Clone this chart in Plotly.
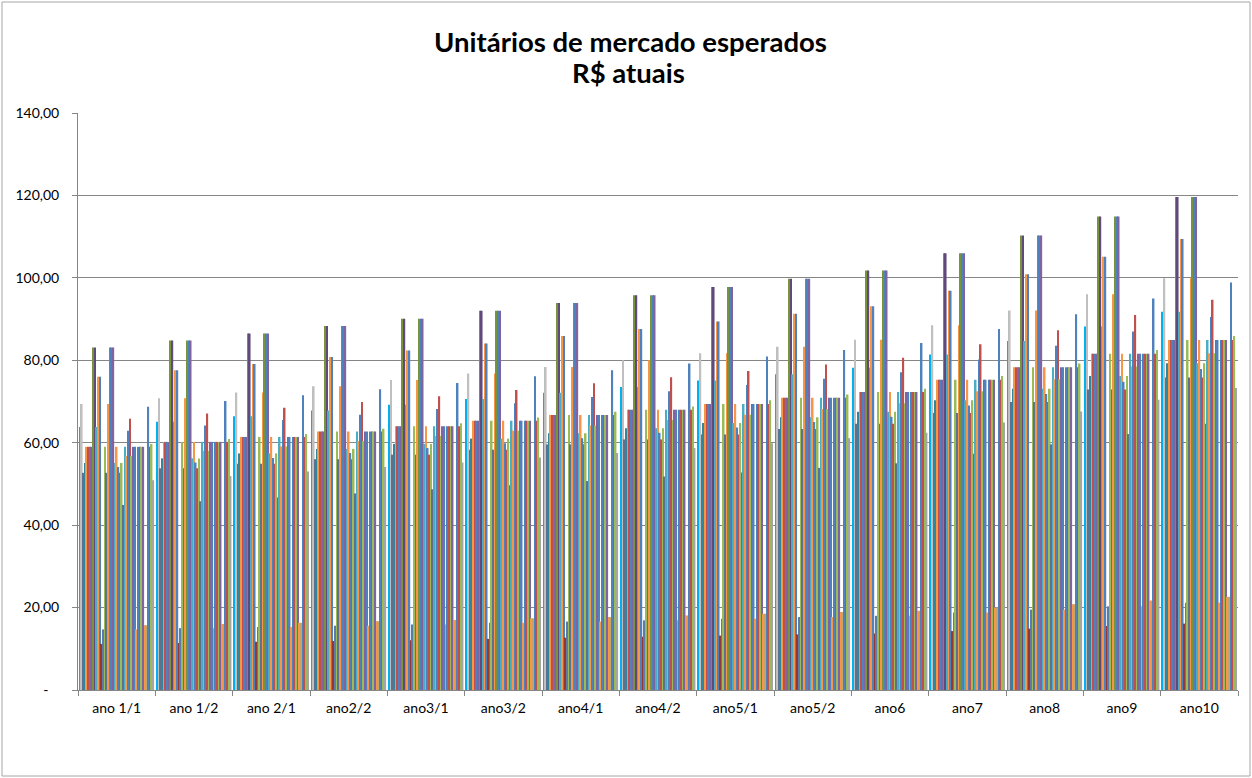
import plotly.graph_objects as go

categories = ["ano 1/1", "ano 1/2", "ano 2/1", "ano2/2", "ano3/1", "ano3/2", "ano4/1",
              "ano4/2", "ano5/1", "ano5/2", "ano6", "ano7", "ano8", "ano9", "ano10"]

# values of the 45 series, one list per category
v_ano_1_1 = [63.8, 69.4, 52.7, 55.1, 59.0, 59.0, 59.0, 59.0, 83.1, 83.1, 63.8, 76.0, 76.0, 11.2, 14.7,
             59.0, 52.7, 69.4, 83.1, 83.1, 83.1, 55.1, 59.0, 54.1, 52.7, 55.1, 44.9, 59.0, 56.8, 62.9,
             65.8, 56.8, 59.0, 59.0, 14.7, 59.0, 59.0, 59.0, 59.0, 15.7, 15.7, 68.7, 59.0, 59.7, 50.9]
v_ano_1_2 = [65.1, 70.8, 53.8, 56.2, 60.2, 60.2, 60.2, 60.2, 84.8, 84.8, 65.1, 77.6, 77.6, 11.4, 15.0,
             60.2, 53.8, 70.8, 84.8, 84.8, 84.8, 56.2, 60.2, 55.2, 53.8, 56.2, 45.8, 60.2, 58.0, 64.2,
             67.1, 58.0, 60.2, 60.2, 15.0, 60.2, 60.2, 60.2, 60.2, 16.0, 16.0, 70.1, 60.2, 60.9, 51.9]
v_ano_2_1 = [66.4, 72.2, 54.9, 57.4, 61.4, 61.4, 61.4, 61.4, 86.5, 86.5, 66.4, 79.1, 79.1, 11.7, 15.3,
             61.4, 54.9, 72.2, 86.5, 86.5, 86.5, 57.4, 61.4, 56.3, 54.9, 57.4, 46.7, 61.4, 59.1, 65.5,
             68.5, 59.1, 61.4, 61.4, 15.3, 61.4, 61.4, 61.4, 61.4, 16.3, 16.3, 71.5, 61.4, 62.1, 53.0]
v_ano_2_2 = [67.8, 73.7, 56.0, 58.5, 62.7, 62.7, 62.7, 62.7, 88.3, 88.3, 67.8, 80.8, 80.8, 11.9, 15.6,
             62.7, 56.0, 73.7, 88.3, 88.3, 88.3, 58.5, 62.7, 57.5, 56.0, 58.5, 47.7, 62.7, 60.4, 66.8,
             69.9, 60.4, 62.7, 62.7, 15.6, 62.7, 62.7, 62.7, 62.7, 16.7, 16.7, 73.0, 62.7, 63.4, 54.1]
v_ano_3_1 = [69.2, 75.2, 57.1, 59.7, 64.0, 64.0, 64.0, 64.0, 90.1, 90.1, 69.2, 82.4, 82.4, 12.1, 15.9,
             64.0, 57.1, 75.2, 90.1, 90.1, 90.1, 59.7, 64.0, 58.7, 57.1, 59.7, 48.7, 64.0, 61.6, 68.2,
             71.3, 61.6, 64.0, 64.0, 15.9, 64.0, 64.0, 64.0, 64.0, 17.0, 17.0, 74.5, 64.0, 64.7, 55.2]
v_ano_3_2 = [70.6, 76.8, 58.3, 61.0, 65.3, 65.3, 65.3, 65.3, 92.0, 92.0, 70.6, 84.1, 84.1, 12.4, 16.3,
             65.3, 58.3, 76.8, 92.0, 92.0, 92.0, 61.0, 65.3, 59.9, 58.3, 61.0, 49.7, 65.3, 62.9, 69.6,
             72.8, 62.9, 65.3, 65.3, 16.3, 65.3, 65.3, 65.3, 65.3, 17.4, 17.4, 76.1, 65.3, 66.1, 56.4]
v_ano_4_1 = [72.1, 78.4, 59.6, 62.3, 66.7, 66.7, 66.7, 66.7, 93.9, 93.9, 72.1, 85.9, 85.9, 12.7, 16.6,
             66.7, 59.6, 78.4, 93.9, 93.9, 93.9, 62.3, 66.7, 61.1, 59.6, 62.3, 50.7, 66.7, 64.2, 71.1,
             74.4, 64.2, 66.7, 66.7, 16.6, 66.7, 66.7, 66.7, 66.7, 17.7, 17.7, 77.6, 66.7, 67.5, 57.5]
v_ano_4_2 = [73.5, 80.0, 60.8, 63.5, 68.0, 68.0, 68.0, 68.0, 95.8, 95.8, 73.5, 87.6, 87.6, 12.9, 16.9,
             68.0, 60.8, 80.0, 95.8, 95.8, 95.8, 63.5, 68.0, 62.4, 60.8, 63.5, 51.8, 68.0, 65.5, 72.5,
             75.9, 65.5, 68.0, 68.0, 16.9, 68.0, 68.0, 68.0, 68.0, 18.1, 18.1, 79.2, 68.0, 68.8, 58.7]
v_ano_5_1 = [75.1, 81.7, 62.0, 64.8, 69.4, 69.4, 69.4, 69.4, 97.8, 97.8, 75.1, 89.4, 89.4, 13.2, 17.3,
             69.4, 62.0, 81.7, 97.8, 97.8, 97.8, 64.8, 69.4, 63.7, 62.0, 64.8, 52.8, 69.4, 66.8, 74.0,
             77.4, 66.8, 69.4, 69.4, 17.3, 69.4, 69.4, 69.4, 69.4, 18.5, 18.5, 80.9, 69.4, 70.3, 59.9]
v_ano_5_2 = [76.6, 83.3, 63.3, 66.2, 70.9, 70.9, 70.9, 70.9, 99.8, 99.8, 76.6, 91.3, 91.3, 13.5, 17.7,
             70.9, 63.3, 83.3, 99.8, 99.8, 99.8, 66.2, 70.9, 65.0, 63.3, 66.2, 53.9, 70.9, 68.2, 75.5,
             79.0, 68.2, 70.9, 70.9, 17.7, 70.9, 70.9, 70.9, 70.9, 18.9, 18.9, 82.5, 70.9, 71.7, 61.1]
v_ano_6 = [78.2, 85.0, 64.6, 67.5, 72.3, 72.3, 72.3, 72.3, 101.8, 101.8, 78.2, 93.1, 93.1, 13.7, 18.0,
           72.3, 64.6, 85.0, 101.8, 101.8, 101.8, 67.5, 72.3, 66.3, 64.6, 67.5, 55.0, 72.3, 69.6, 77.1,
           80.6, 69.6, 72.3, 72.3, 18.0, 72.3, 72.3, 72.3, 72.3, 19.2, 19.2, 84.2, 72.3, 73.1, 62.4]
v_ano_7 = [81.4, 88.5, 67.2, 70.3, 75.3, 75.3, 75.3, 75.3, 106.0, 106.0, 81.4, 96.9, 96.9, 14.3, 18.8,
           75.3, 67.2, 88.5, 106.0, 106.0, 106.0, 70.3, 75.3, 69.0, 67.2, 70.3, 57.3, 75.3, 72.5, 80.2,
           83.9, 72.5, 75.3, 75.3, 18.8, 75.3, 75.3, 75.3, 75.3, 20.0, 20.0, 87.6, 75.3, 76.2, 64.9]
v_ano_8 = [84.7, 92.1, 69.9, 73.1, 78.3, 78.3, 78.3, 78.3, 110.3, 110.3, 84.7, 100.9, 100.9, 14.9, 19.5,
           78.3, 69.9, 92.1, 110.3, 110.3, 110.3, 73.1, 78.3, 71.8, 69.9, 73.1, 59.6, 78.3, 75.4, 83.5,
           87.3, 75.4, 78.3, 78.3, 19.5, 78.3, 78.3, 78.3, 78.3, 20.8, 20.8, 91.2, 78.3, 79.2, 67.6]
v_ano_9 = [88.2, 96.0, 72.9, 76.2, 81.6, 81.6, 81.6, 81.6, 114.9, 114.9, 88.2, 105.1, 105.1, 15.5, 20.3,
           81.6, 72.9, 96.0, 114.9, 114.9, 114.9, 76.2, 81.6, 74.8, 72.9, 76.2, 62.1, 81.6, 78.5, 87.0,
           91.0, 78.5, 81.6, 81.6, 20.3, 81.6, 81.6, 81.6, 81.6, 21.7, 21.7, 95.0, 81.6, 82.5, 70.4]
v_ano_10 = [91.8, 99.9, 75.8, 79.3, 84.9, 84.9, 84.9, 84.9, 119.6, 119.6, 91.8, 109.4, 109.4, 16.1, 21.2,
            84.9, 75.8, 99.9, 119.6, 119.6, 119.6, 79.3, 84.9, 77.9, 75.8, 79.3, 64.6, 84.9, 81.7, 90.5,
            94.7, 81.7, 84.9, 84.9, 21.2, 84.9, 84.9, 84.9, 84.9, 22.6, 22.6, 98.9, 84.9, 85.9, 73.3]

values_by_category = [v_ano_1_1, v_ano_1_2, v_ano_2_1, v_ano_2_2, v_ano_3_1, v_ano_3_2, v_ano_4_1,
                      v_ano_4_2, v_ano_5_1, v_ano_5_2, v_ano_6, v_ano_7, v_ano_8, v_ano_9, v_ano_10]

y_tick_values = [0, 20, 40, 60, 80, 100, 120, 140]
y_tick_labels = ["-\u00a0\u00a0\u00a0", "20,00", "40,00", "60,00", "80,00", "100,00", "120,00", "140,00"]

title_line_1 = "Unitários de mercado esperados"
title_line_2 = "R$ atuais"

palette = ["#00B0F0", "#BFBFBF", "#5F7190", "#31859C", "#F79646", "#C0504D", "#4F81BD", "#8064A2",
           "#77933C", "#604A7B", "#4BACC6", "#F79646", "#4F81BD", "#953735", "#5C7BA8", "#9BBB59",
           "#5F7190", "#F79646", "#77933C", "#4F81BD", "#8064A2", "#4BACC6", "#F79646", "#4F81BD",
           "#C0504D", "#9BBB59", "#5F7190", "#4BACC6", "#F79646", "#4F81BD", "#C0504D", "#9BBB59",
           "#8064A2", "#4F81BD", "#F79646", "#4F81BD", "#C0504D", "#9BBB59", "#8064A2", "#F79646",
           "#C3A56B", "#4F81BD", "#C0504D", "#9BBB59", "#A5A5A5"]

n_series = len(v_ano_1_1)
fig = go.Figure()
for s in range(n_series):
    fig.add_trace(go.Bar(
        x=categories,
        y=[vals[s] for vals in values_by_category],
        marker=dict(color=palette[s % len(palette)], line=dict(width=0)),
        name=f"S{s+1}",
        showlegend=False,
    ))

W, H = 1252, 778
L, R, T, B = 78, 14, 113, 88
pw, ph = W - L - R, H - T - B


def px_x(x):
    return (x - L) / pw


def px_y(y):
    return (H - B - y) / ph


fig.update_layout(
    width=W, height=H,
    margin=dict(l=L, r=R, t=T, b=B, pad=0),
    barmode="group", bargap=0.032, bargroupgap=0,
    plot_bgcolor="white", paper_bgcolor="white",
    font=dict(family="Lato, Calibri, sans-serif", size=14, color="#000000"),
    xaxis=dict(type="category", showgrid=False, showline=True, linecolor="#868686", linewidth=1,
               ticks="outside", tickson="boundaries", ticklen=5, tickcolor="#868686",
               tickfont=dict(size=14), ticklabelstandoff=5, automargin=False),
    yaxis=dict(range=[0, 140], tickvals=y_tick_values, ticktext=y_tick_labels,
               showgrid=True, gridcolor="#868686", gridwidth=1, zeroline=False,
               showline=True, linecolor="#868686", linewidth=1,
               ticks="outside", ticklen=5, tickcolor="#868686",
               tickfont=dict(size=14), ticklabelstandoff=10, automargin=False),
    annotations=[
        dict(text=f"<b>{title_line_1}</b>", xref="paper", yref="paper", x=px_x(630), y=px_y(42),
             xanchor="center", yanchor="middle", showarrow=False,
             font=dict(family="Lato, Calibri, sans-serif", size=27.5, color="#000000")),
        dict(text=f"<b>{title_line_2}</b>", xref="paper", yref="paper", x=px_x(628), y=px_y(73),
             xanchor="center", yanchor="middle", showarrow=False,
             font=dict(family="Lato, Calibri, sans-serif", size=27.5, color="#000000")),
    ],
    shapes=[dict(type="rect", xref="paper", yref="paper",
                 x0=px_x(2), x1=px_x(W - 2), y0=px_y(H - 2), y1=px_y(2),
                 line=dict(color="#A6A6A6", width=1), layer="below")],
)

fig.write_html("out.html",
               config={"displayModeBar": False},
               post_script="document.body.style.margin='0px';document.body.style.overflow='hidden';")
